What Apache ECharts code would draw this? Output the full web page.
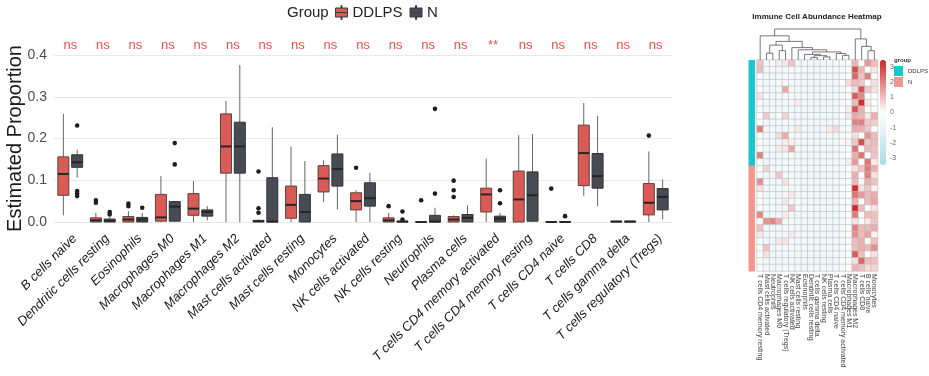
<!DOCTYPE html>
<html><head><meta charset="utf-8">
<script src="https://cdn.jsdelivr.net/npm/echarts@6/dist/echarts.min.js"></script>
<style>html,body{margin:0;padding:0;background:#fff}#c{width:929px;height:376px}</style>
</head><body><div id="c"></div>
<script>
// ---------- Boxplot data ----------
const cellTypes = ['B cells naive','Dendritic cells resting','Eosinophils','Macrophages M0','Macrophages M1','Macrophages M2','Mast cells activated','Mast cells resting','Monocytes','NK cells activated','NK cells resting','Neutrophils','Plasma cells','T cells CD4 memory activated','T cells CD4 memory resting','T cells CD4 naive','T cells CD8','T cells gamma delta','T cells regulatory (Tregs)'];
const groupNames = ['DDLPS','N'];
// [min, Q1, median, Q3, max]
const boxDDLPS = [[0.016,0.064,0.115,0.156,0.259],[0,0,0.004,0.010,0.022],[0,0,0.006,0.013,0.026],[0,0.002,0.011,0.066,0.110],[0,0.016,0.032,0.068,0.098],[0,0.117,0.181,0.259,0.290],[0,0,0.002,0.004,0.006],[0,0.009,0.041,0.086,0.181],[0.048,0.072,0.104,0.135,0.148],[0,0.029,0.050,0.070,0.076],[0,0,0.004,0.010,0.022],[0,0,0,0.001,0.002],[0,0,0.006,0.013,0.016],[0,0.024,0.066,0.081,0.152],[0,0,0.054,0.122,0.208],[0,0,0,0,0],[0.062,0.087,0.165,0.232,0.285],[0,0,0.001,0.002,0.003],[0,0.017,0.046,0.092,0.169]];
const boxN = [[0.106,0.131,0.143,0.161,0.173],[0,0,0.003,0.007,0.012],[0,0,0.006,0.011,0.022],[0,0.002,0.037,0.049,0.049],[0.004,0.014,0.024,0.029,0.038],[0,0.117,0.181,0.239,0.376],[0,0,0.001,0.106,0.227],[0,0,0.024,0.066,0.146],[0.030,0.086,0.127,0.163,0.209],[0,0.038,0.057,0.094,0.118],[0,0,0.001,0.002,0.004],[0,0,0.001,0.016,0.034],[0,0,0.010,0.018,0.040],[0,0,0.008,0.014,0.022],[0,0.002,0.064,0.120,0.211],[0,0,0,0.001,0.002],[0.038,0.081,0.110,0.164,0.254],[0,0,0.001,0.002,0.003],[0.006,0.029,0.060,0.080,0.102]];
// outliers [category index, value]
const outDDLPS = [[1,0.052],[1,0.046],[2,0.044],[2,0.038],[6,0.121],[6,0.033],[6,0.022],[9,0.130],[10,0.038],[11,0.052],[12,0.099],[12,0.076],[12,0.060],[15,0.080],[18,0.207]];
const outN = [[0,0.231],[0,0.074],[0,0.068],[0,0.062],[1,0.024],[1,0.018],[2,0.034],[3,0.189],[3,0.138],[10,0.025],[10,0.006],[11,0.271],[11,0.068],[13,0.076],[13,0.045],[15,0.014]];
const signif = ['ns','ns','ns','ns','ns','ns','ns','ns','ns','ns','ns','ns','ns','**','ns','ns','ns','ns','ns'];
const yMin = 0, yMax = 0.4, yStep = 0.1;

// ---------- Heatmap data ----------
const hmColumns = ['T cells CD4 memory resting','Mast cells activated','Neutrophils','Macrophages M0','T cells regulatory (Tregs)','NK cells activated','Mast cells resting','Eosinophils','Dendritic cells resting','T cells gamma delta','NK cells resting','Plasma cells','T cells CD4 naive','T cells CD4 memory activated','Macrophages M1','Macrophages M2','T cells CD8','B cells naive','Monocytes'];
const hmDDLPS = [
 [1.0,-0.6,-0.4,0.3,0.4,1.0,-0.6,-0.6,-0.6,-0.7,-0.6,-0.6,-0.6,-0.4,-0.2,1.2,-0.1,1.6,1.1],
 [1.1,-0.6,-0.6,-0.5,-0.5,-0.4,-0.5,-0.6,-0.6,-0.7,-0.6,-0.6,-0.6,-0.4,-0.1,2.8,1.2,-0.2,0.4],
 [-0.4,-0.6,-0.6,-0.6,-0.5,-0.5,-0.6,-0.6,-0.7,-0.7,-0.6,-0.6,-0.6,-0.4,-0.3,2.4,1.0,2.0,-0.1],
 [-0.4,-0.6,-0.6,-0.6,-0.5,-0.5,-0.6,-0.6,-0.6,-0.7,-0.6,-0.6,-0.6,-0.3,0.6,1.1,0.9,-0.1,0.5],
 [-0.3,-0.6,-0.6,-0.4,1.4,-0.5,-0.6,-0.6,-0.6,-0.7,-0.6,-0.6,-0.6,-0.4,-0.2,0.6,2.7,0.9,0.5],
 [0.5,-0.6,-0.6,-0.6,-0.5,-0.5,-0.6,-0.6,-0.6,-0.7,-0.6,-0.6,-0.6,-0.4,-0.3,2.6,1.9,-0.2,0.0],
 [-0.2,-0.6,-0.6,-0.6,-0.5,-0.5,0.3,-0.6,-0.6,-0.7,-0.6,-0.6,-0.6,-0.4,-0.2,1.1,3.3,0.4,-0.1],
 [-0.4,-0.6,-0.6,-0.6,-0.5,-0.5,-0.6,-0.6,-0.6,-0.7,-0.6,-0.6,-0.6,-0.3,0.3,2.7,1.3,-0.2,0.1],
 [-0.1,0.9,-0.6,0.1,0.7,-0.5,-0.6,-0.6,-0.6,-0.7,-0.6,-0.6,-0.6,-0.4,0.4,1.4,1.2,0.4,1.3],
 [0.0,-0.6,-0.6,-0.6,-0.5,-0.5,-0.6,-0.6,-0.6,-0.7,-0.6,-0.6,-0.6,-0.4,-0.3,2.0,2.0,0.9,0.8],
 [2.0,-0.6,-0.6,-0.6,-0.5,-0.5,0.4,-0.6,-0.6,-0.7,-0.6,0.4,0.6,-0.4,-0.3,1.3,1.3,0.9,-0.1],
 [-0.3,-0.6,-0.6,0.6,1.3,-0.5,-0.6,-0.6,-0.6,-0.7,-0.6,-0.6,-0.6,-0.4,-0.2,0.5,-0.1,1.7,1.1],
 [-0.2,-0.6,-0.6,-0.6,0.3,0.3,-0.6,-0.6,-0.6,-0.7,-0.6,-0.6,-0.6,-0.4,0.2,0.9,2.8,0.9,1.1],
 [-0.2,-0.6,-0.6,0.3,0.4,1.4,-0.6,-0.6,-0.6,-0.7,-0.6,-0.6,-0.6,-0.3,-0.1,2.2,-0.1,1.1,1.0],
 [2.0,-0.6,-0.6,-0.6,-0.5,-0.5,-0.6,-0.6,-0.6,-0.7,-0.6,-0.6,-0.6,-0.4,0.0,1.3,2.2,-0.2,1.0],
 [-0.1,-0.6,-0.6,-0.6,-0.5,-0.5,-0.6,-0.6,-0.6,-0.7,-0.6,-0.6,-0.6,-0.4,0.3,1.6,-0.1,2.2,0.3]
];
const hmN = [
 [-0.2,0.7,-0.6,-0.6,-0.5,-0.5,-0.6,-0.6,-0.6,-0.7,-0.6,-0.6,-0.6,-0.4,-0.1,0.5,1.0,2.1,1.3],
 [-0.3,-0.6,-0.6,0.9,-0.5,-0.5,-0.6,-0.6,-0.6,-0.7,-0.6,-0.6,-0.6,-0.4,-0.2,1.3,-0.1,2.0,0.5],
 [1.8,-0.6,-0.6,-0.6,0.5,-0.5,-0.6,-0.6,-0.6,-0.7,-0.6,-0.6,-0.6,-0.4,-0.3,1.1,0.1,1.3,1.0],
 [0.5,-0.6,-0.6,-0.6,-0.5,-0.5,-0.6,-0.6,-0.6,-0.7,-0.6,-0.6,-0.6,-0.3,-0.1,3.3,0.5,0.9,0.2],
 [-0.3,-0.6,-0.6,-0.6,-0.5,0.4,-0.6,-0.6,-0.6,-0.7,-0.6,-0.6,-0.6,-0.4,-0.2,2.2,1.6,1.1,1.3],
 [-0.2,-0.6,-0.6,-0.6,0.4,-0.5,-0.3,-0.6,-0.6,-0.7,-0.6,-0.6,-0.6,-0.4,-0.2,1.3,0.0,1.1,1.5],
 [-0.3,-0.6,-0.6,-0.6,-0.5,0.9,-0.6,-0.6,-0.6,-0.7,-0.6,-0.6,-0.6,-0.4,-0.1,3.4,1.1,0.1,0.5],
 [1.9,-0.6,-0.6,-0.6,0.3,-0.5,-0.6,-0.6,-0.6,-0.7,-0.6,-0.6,-0.6,-0.4,-0.2,2.1,0.0,1.1,1.0],
 [-0.3,1.7,1.9,1.3,-0.5,-0.5,-0.6,-0.6,-0.6,-0.7,-0.6,-0.6,-0.6,-0.4,-0.2,0.5,-0.1,0.4,0.9],
 [1.0,-0.6,-0.6,-0.6,-0.5,-0.5,-0.6,-0.6,-0.6,-0.7,-0.6,-0.6,-0.6,-0.4,-0.2,2.0,1.1,1.1,1.3],
 [0.4,-0.6,-0.6,-0.6,-0.5,0.4,-0.6,-0.6,-0.6,-0.7,-0.6,-0.6,-0.6,-0.4,-0.1,1.8,1.1,1.5,0.2],
 [-0.2,-0.6,-0.6,0.4,0.5,-0.5,-0.6,-0.6,-0.6,-0.7,-0.6,-0.6,-0.6,-0.4,-0.2,1.1,1.3,0.1,1.0],
 [-0.3,1.0,-0.6,-0.6,-0.5,-0.5,-0.6,-0.6,-0.6,-0.7,-0.6,-0.6,-0.6,-0.4,-0.1,1.1,1.3,1.1,1.8],
 [-0.2,0.5,-0.6,-0.6,-0.5,-0.5,-0.6,-0.6,-0.6,-0.7,-0.6,-0.6,-0.6,-0.4,-0.2,2.6,1.1,0.0,0.5],
 [-0.3,-0.6,-0.6,-0.6,-0.5,-0.5,-0.6,-0.6,-0.6,-0.7,-0.6,-0.6,-0.6,-0.3,0.0,0.5,2.4,1.1,1.0],
 [-0.2,-0.6,-0.6,-0.6,-0.5,-0.5,-0.6,-0.6,-0.6,-0.7,-0.6,-0.6,-0.6,-0.4,-0.1,1.2,1.0,0.6,0.7]
];
// hclust-style merges: negative = leaf (column index+1), positive = earlier merge number
const dendroMerge = [[-2,-3],[-4,-5],[1,2],[-9,-10],[-11,-12],[4,5],[-8,6],[-14,-15],[-13,8],[7,9],[-7,10],[-6,11],[3,12],[-1,13],[-18,-19],[-17,15],[-16,16],[14,17]];
const dendroHeight = [0.22,0.30,0.48,0.08,0.10,0.14,0.18,0.15,0.21,0.26,0.33,0.40,0.60,0.78,0.30,0.44,0.68,1.0];
const colorbarTicks = [-3,-2,-1,0,1,2,3];
const zLimit = 3.45;

// ---------- build ----------
const FONT = 'Liberation Sans, Arial, sans-serif';
const hmRows = [];
const hmData = [];
const annotData = [];
[hmDDLPS, hmN].forEach((rows, g) => rows.forEach((r, i) => {
  const rowIdx = hmRows.length;
  hmRows.push(groupNames[g] + (i + 1));
  r.forEach((v, c) => hmData.push([c, rowIdx, v]));
  annotData.push([0, rowIdx, g]);
}));
const nodeX = [];
const dendroData = dendroMerge.map((m, k) => {
  const pos = m.map(a => a < 0 ? [-a - 1, 0] : [nodeX[a - 1], dendroHeight[a - 1]]);
  nodeX[k] = (pos[0][0] + pos[1][0]) / 2;
  return [pos[0][0], pos[0][1], pos[1][0], pos[1][1], dendroHeight[k]];
});

function groupOffset(api, g) {
  const bw = api.size([1, 0])[0];
  const avail = bw * 0.8 - 2;
  const gap = avail / 2 * 0.3;
  const w = (avail - gap) / 2;
  return (g === 0 ? -1 : 1) * (w + gap) / 2;
}
const boxColors = ['#DA5A55', '#484B53'];
const boxBorder = ['#5e4040', '#333333'];
const annotColors = ['#1BC6CF', '#F4968D'];
const BOXW = 11;

const boxSeries = (arr, g) => ({
  name: groupNames[g], type: 'custom', xAxisIndex: 0, yAxisIndex: 0, z: 3,
  data: arr.map((d, i) => [i, d[0], d[1], d[2], d[3], d[4]]),
  encode: { x: 0, y: [1, 2, 3, 4, 5] },
  itemStyle: { color: boxColors[g] },
  renderItem: (p, api) => {
    const i = api.value(0);
    const x = api.coord([i, 0])[0] + groupOffset(api, g);
    const y = k => api.coord([i, api.value(k)])[1];
    const yMinP = y(1), yQ1 = y(2), yMed = y(3), yQ3 = y(4), yMaxP = y(5);
    return { type: 'group', children: [
      { type: 'line', shape: { x1: x, y1: yMaxP, x2: x, y2: yQ3 }, style: { stroke: '#666', lineWidth: 1 } },
      { type: 'line', shape: { x1: x, y1: yQ1, x2: x, y2: yMinP }, style: { stroke: '#666', lineWidth: 1 } },
      { type: 'rect', shape: { x: x - BOXW / 2, y: yQ3, width: BOXW, height: Math.max(yQ1 - yQ3, 0.01) }, style: { fill: boxColors[g], stroke: boxBorder[g], lineWidth: 1 } },
      { type: 'line', shape: { x1: x - BOXW / 2, y1: yMed, x2: x + BOXW / 2, y2: yMed }, style: { stroke: '#262626', lineWidth: 2 } }
    ] };
  }
});
const outlierSeries = (arr, g) => ({
  type: 'custom', xAxisIndex: 0, yAxisIndex: 0, z: 5,
  data: arr.map(d => [d[0], d[1]]),
  encode: { x: 0, y: 1 },
  renderItem: (p, api) => {
    const c = api.coord([api.value(0), api.value(1)]);
    return { type: 'circle', shape: { cx: c[0] + groupOffset(api, g), cy: c[1], r: 2.3 }, style: { fill: '#1e1e1e' } };
  }
});
const legendIcon = 'path://M5.5,0h1v2.5h-1z M0,2.5h12v4.5h-12z M0,7h12v4.5h-12z M5.5,11.5h1v2.5h-1z';

const option = {
  animation: false,
  backgroundColor: '#fff',
  textStyle: { fontFamily: FONT },
  title: [
    { text: 'Group', left: 287, top: 5, padding: 0, textStyle: { fontSize: 15, fontWeight: 'normal', color: '#222', fontFamily: FONT } },
    { text: 'Immune Cell Abundance Heatmap', left: 817, top: 13, padding: 0, textAlign: 'center', textStyle: { fontSize: 8, fontWeight: 'bold', color: '#222', fontFamily: FONT } },
    { text: 'group', left: 894, top: 57, padding: 0, textStyle: { fontSize: 6, fontWeight: 'bold', color: '#333', fontFamily: FONT } }
  ],
  legend: [
    { data: groupNames.map((n, g) => ({ name: n, icon: legendIcon, itemStyle: { color: boxColors[g], borderColor: '#3a3a3a', borderWidth: 1 } })),
      left: 335, top: 5, padding: 0, itemWidth: 12, itemHeight: 14, itemGap: 7, selectedMode: false,
      textStyle: { fontSize: 15, color: '#222', fontFamily: FONT } },
    { data: groupNames.map((n, g) => ({ name: n, icon: 'rect', itemStyle: { color: annotColors[g], borderWidth: 0 } })),
      orient: 'vertical', left: 894, top: 66, padding: 0, itemWidth: 9, itemHeight: 10, itemGap: 1, itemTextGap: 2, selectedMode: false,
      textStyle: { fontSize: 6, color: '#333', fontFamily: FONT, overflow: 'none' } }
  ],
  grid: [
    { left: 54, right: 257, top: 55, bottom: 154, outerBoundsMode: 'none' },
    { left: 757, width: 120.5, top: 60, height: 211, outerBoundsMode: 'none' },
    { left: 880, width: 6, top: 51.7, height: 121.6, outerBoundsMode: 'none' },
    { left: 748.5, width: 6.5, top: 60, height: 211, outerBoundsMode: 'none' },
    { left: 757, width: 120.5, top: 29, height: 31, outerBoundsMode: 'none' }
  ],
  xAxis: [
    { gridIndex: 0, type: 'category', data: cellTypes, axisLine: { show: false }, axisTick: { show: false }, splitLine: { show: false },
      axisLabel: { interval: 0, rotate: 45, fontStyle: 'italic', fontSize: 13, color: '#1a1a1a', margin: 10, align: 'right', verticalAlign: 'top', fontFamily: FONT } },
    { gridIndex: 1, type: 'category', data: hmColumns, axisLine: { show: false }, axisTick: { show: false },
      axisLabel: { interval: 0, rotate: -90, fontSize: 7, color: '#444', margin: 3, fontFamily: FONT } },
    { gridIndex: 2, type: 'category', data: ['z'], show: false },
    { gridIndex: 3, type: 'category', data: ['group'], show: false },
    { gridIndex: 4, type: 'value', min: -0.5, max: hmColumns.length - 0.5, show: false }
  ],
  yAxis: [
    { gridIndex: 0, type: 'value', min: yMin, max: yMax, interval: yStep,
      name: 'Estimated Proportion', nameLocation: 'middle', nameGap: 29, nameMoveOverlap: false,
      nameTextStyle: { fontSize: 20, color: '#1a1a1a', fontFamily: FONT },
      axisLine: { show: false }, axisTick: { show: false },
      axisLabel: { fontSize: 14, color: '#4d4d4d', margin: 7, formatter: v => v.toFixed(1), fontFamily: FONT },
      splitLine: { show: true, lineStyle: { color: '#e8e8e8', width: 1 } } },
    { gridIndex: 1, type: 'category', data: hmRows, inverse: true, show: false },
    { gridIndex: 2, type: 'value', min: -4, max: 4, interval: 1, position: 'right',
      axisLine: { show: false }, axisTick: { show: false }, splitLine: { show: false },
      axisLabel: { fontSize: 7, color: '#666', margin: 4, formatter: v => colorbarTicks.indexOf(v) >= 0 ? String(v) : '' } },
    { gridIndex: 3, type: 'category', data: hmRows, inverse: true, show: false },
    { gridIndex: 4, type: 'value', min: 0, max: 1, show: false }
  ],
  visualMap: [{
    type: 'continuous', seriesIndex: 5, min: -zLimit, max: zLimit, calculable: false, realtime: false,
    inRange: { color: ['#ADD8E6', '#FFFFFF', '#CD2626'] },
    left: 880, top: 60, itemWidth: 6, itemHeight: 105, padding: 0, text: null, showLabel: false, hoverLink: false
  }],
  series: [
    boxSeries(boxDDLPS, 0),
    boxSeries(boxN, 1),
    outlierSeries(outDDLPS, 0),
    outlierSeries(outN, 1),
    { type: 'scatter', xAxisIndex: 0, yAxisIndex: 0, symbolSize: 0, silent: true,
      data: signif.map((s, i) => [i, yMax]),
      label: { show: true, position: 'top', distance: 3, formatter: p => signif[p.dataIndex], color: '#f01a1a', fontSize: 13, fontFamily: FONT } },
    { type: 'heatmap', xAxisIndex: 1, yAxisIndex: 1, data: hmData,
      itemStyle: { borderColor: '#bdbdbd', borderWidth: 0.6 }, emphasis: { disabled: true } },
    { type: 'custom', xAxisIndex: 3, yAxisIndex: 3, data: annotData, encode: { x: 0, y: 1 },
      renderItem: (p, api) => {
        const c = api.coord([api.value(0), api.value(1)]);
        const s = api.size([1, 1]);
        return { type: 'rect', shape: { x: c[0] - s[0] / 2, y: c[1] - s[1] / 2, width: s[0], height: s[1] + 0.5 }, style: { fill: annotColors[api.value(2)] } };
      } },
    { type: 'custom', xAxisIndex: 4, yAxisIndex: 4, data: dendroData, encode: { x: [0, 2], y: [1, 3, 4] },
      renderItem: (p, api) => {
        const a = api.coord([api.value(0), api.value(1)]);
        const b = api.coord([api.value(0), api.value(4)]);
        const c = api.coord([api.value(2), api.value(4)]);
        const d = api.coord([api.value(2), api.value(3)]);
        return { type: 'polyline', shape: { points: [a, b, c, d] }, style: { stroke: '#555', lineWidth: 0.8, fill: null } };
      } }
  ]
};
const chart = echarts.init(document.getElementById('c'), null, { renderer: 'canvas' });
chart.setOption(option);
</script></body></html>
